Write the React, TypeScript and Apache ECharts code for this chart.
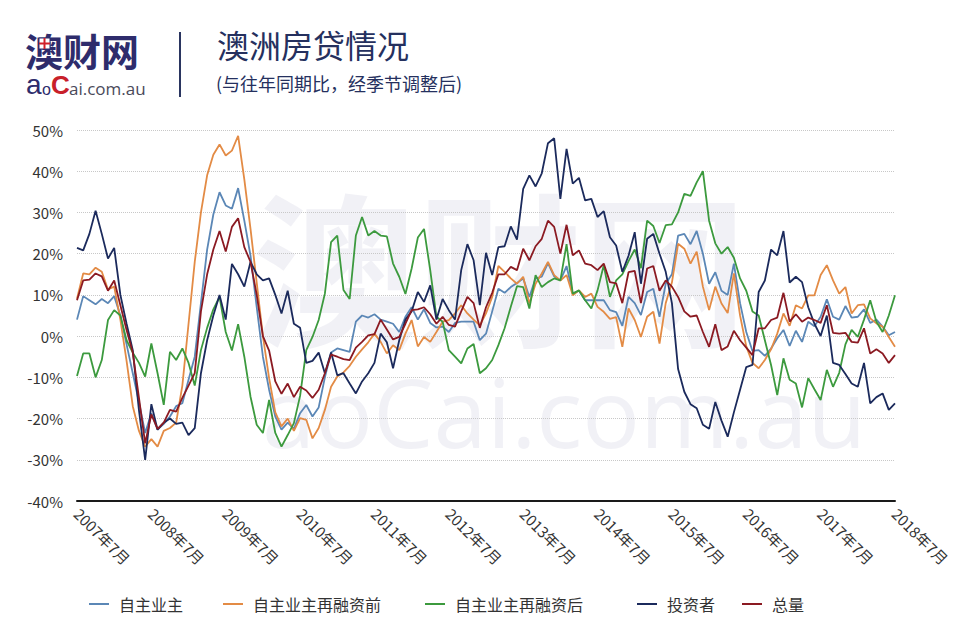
import React, { useEffect, useRef } from "react";
import * as echarts from "echarts";

const startYear = 2007;
const endYear = 2018;
const months: string[] = [];
for (let y = startYear; y <= endYear; y++) {
  for (let m = 1; m <= 12; m++) {
    if ((y === startYear && m < 7) || (y === endYear && m > 7)) continue;
    months.push(`${y}年${m}月`);
  }
}

const seriesNames = ["自主业主", "自主业主再融资前", "自主业主再融资后", "投资者", "总量"];
const seriesColors = ["#5b87b6", "#e38b45", "#3c9a3e", "#1b2a5c", "#8b1a22"];

const ownerOccupier = [
  4, 9.7, 8.7, 7.7, 9, 8, 9.7, 5, -2, -9, -16, -23.5, -18.7, -22.7, -21.3, -19.5, -17, -16.3, -10.6, -5,
  8, 21, 29.5, 34.9, 31.7, 30.9, 35.9, 28, 19.5, 7, -5, -13, -19.5, -22.7, -21, -22.5, -18.7, -16.7, -19.5, -17.3,
  -10, -4, -3, -3.4, -3.8, 3.5, 5, 4.5, 5.3, 4, 3.5, 3, 1, 4.7, 7, 4, 6.5, 3.2, 2.1, 2.3,
  1, 3.2, 3.5, 3.5, 3.5, -1, 0.6, 6, 11.5, 10.5, 11.9, 12.9, 14, 9.5, 14, 14.4, 17.7, 14.5, 13.5, 17,
  10.3, 11, 8.7, 8.7, 8.7, 8.7, 6.3, 5.8, 2.5, 9.5, 8, 5.1, 10.7, 11.5, 4.7, 12.7, 15, 24.4, 24.8, 22.3,
  25.5, 20, 12.7, 15.5, 11, 10, 17.6, 8, 1, -3.6, -3.4, -4.8, -3, -0.5, 1.5, -2.4, 1.3, -1.4, 3.5, 2.4,
  4.7, 8.9, 4.7, 4, 7.3, 4.5, 4.7, 6.5, 3.2, 4, 2.3, 0.2, 1,
];

const ownerRefiBefore = [
  9.1, 15.2, 15, 16.6, 15.6, 11.3, 12, 4, -6, -17, -23, -26.8, -25, -26.8, -23, -22.3, -21, -12, 3, 18,
  30, 39, 44, 46.5, 43.8, 45, 48.6, 38, 26, 13, 0, -10.2, -18.5, -21.9, -20, -23, -19.9, -20.3, -24.8, -22.3,
  -17.9, -12.3, -9.8, -8.8, -7.2, -5, -3.2, -1.5, 0.6, -1.4, -4.2, -2.2, -3.4, 0.6, 3.9, -2.5, -0.2, -1.4, 1, 3.5,
  3.9, 5.5, 7.5, 5.5, 4, 2.6, 5.5, 9.5, 17, 15.6, 14, 12.7, 14.4, 7.9, 12.7, 15.2, 18, 14.8, 13.5, 14.8,
  9.9, 11.1, 9.5, 10.3, 7.1, 5.9, 4.2, 4.6, -2.6, 6.7, 3.9, -0.2, 4.7, 5.9, -1.8, 8, 13, 22.4, 21.2, 17.6,
  20.5, 12, 6.3, 12, 7.9, 5.6, 15.2, 5, -2.5, -6.5, -7.8, -5.8, -3.2, 0.6, 5.5, 2.5, 7.5, 6.7, 9.9, 9.9,
  14.8, 17.2, 13.5, 10.3, 11.9, 5.5, 7.5, 7.7, 4.3, 3.1, 2.3, -0.2, -2.6,
];

const ownerRefiAfter = [
  -9.7, -4.2, -4.2, -10, -5.8, 3.9, 6.3, 5, -1, -4, -6.5, -9.8, -1.8, -9, -16.7, -3.8, -5.8, -3, -6.5, -12,
  -3.4, 2, 6.5, 9.5, 1, -3.5, 2.9, -5, -14.7, -21.5, -23.5, -15.5, -23.5, -26.8, -24, -21.1, -14.5, -3.4, -0.2, 3.9,
  10.3, 22.8, 24.4, 11.2, 9, 24.4, 28.9, 24.4, 25.5, 24.4, 24.2, 17.6, 14.4, 10.2, 16.4, 23.9, 26, 16, 4.7, 3.5,
  -3.4, -5, -6.6, -3, -1.9, -9, -7.8, -5.8, -2.2, 1.9, 7.1, 12.1, 11.9, 6.7, 14.8, 11.9, 13.1, 14, 13.5, 22.3,
  10.3, 11.1, 8.7, 6.7, 11.1, 17.2, 9.5, 13.5, 15, 18.2, 21, 16.5, 28, 26.7, 22.6, 26.9, 27.1, 30, 34.5, 34,
  37.3, 40, 28, 22.5, 20, 21.6, 19, 14, 11, 6, 5, -1, -7, -14.3, -5.4, -10.6, -11.5, -17.3, -10.2, -12.9,
  -15.5, -8.2, -12.3, -8.9, -2, 1.5, -0.2, 4, 8.7, 3.5, 1, 5, 9.9,
];

const investor = [
  21.4, 20.8, 24.8, 30.4, 24.8, 18.8, 21.4, 10, 3, -3.4, -18, -30, -16.5, -22.7, -21, -20, -21.3, -21, -24, -22.3,
  -9, -1, 5, 10, 4, 17.5, 15, 12, 18, 15, 13.5, 14, 10, 5.5, 11, 3, 2, -6.5, -6, -4,
  -9, -4, -9.5, -9, -11.5, -13.9, -11, -9, -6.5, 0.6, -1.5, -7.8, -1, 4, 6, 10.7, 8.3, 12.3, 4, 9,
  6.3, 4, 16, 22.3, 18.4, 7.5, 20.2, 14.8, 21.6, 21.8, 26.6, 23.4, 35.7, 39, 36.3, 39.5, 46.8, 48, 33.3, 45.4,
  37, 38.4, 32.9, 33.3, 28.9, 30.3, 24, 22, 15.6, 19.5, 25.2, 12.7, 23.6, 24.8, 20, 15.6, 8, -8, -13.5, -16.5,
  -17.5, -21.5, -22.5, -16, -20.5, -24.4, -18.5, -13, -7.5, -7, 10.7, 13.5, 21, 19.6, 25.5, 13, 14.4, 13.1, 7, 3,
  0, 5, -6.5, -7, -9.2, -11.5, -12.3, -6.5, -16.3, -14.8, -13.9, -17.9, -16.3,
];

const total = [
  8.7, 13.5, 13.7, 15.2, 14.5, 11, 13.5, 7.5, 1.5, -4, -15, -26, -19, -22.5, -21, -17.9, -18.3, -15, -12, -9,
  6, 15, 21, 25.5, 20.5, 26.5, 28.6, 21.6, 18, 10, 0, -3.5, -11, -14, -11.5, -14.8, -12.3, -13.2, -15, -13,
  -9, -4.5, -5, -5.6, -5.8, -2.8, -1.4, 0.2, 0.5, 4, 1.6, -0.8, -0.2, 3, 6.3, 6.5, 7, 5.3, 3, 4.7,
  2.7, 2.3, 6, 9.5, 8, 2, 7, 10.5, 15, 15, 16.8, 16, 21.2, 18.4, 21.8, 23.6, 28, 26.5, 20, 27,
  19.6, 20.8, 17.6, 17.2, 16, 17.6, 13.1, 12.8, 8, 15.5, 15.8, 8, 16.4, 17, 11, 13.5, 12, 9.5, 6, 4.7,
  5, 1, -2.6, 2.9, -3.4, -2.5, 1.3, -1, -2.8, -4.6, 1.9, 1.9, 3.9, 4.5, 10.5, 3.5, 5.3, 3.5, 4.5, 3.9,
  3.2, 7.5, 0.8, 0.6, 0.8, -1.4, -1.6, 1.9, -4.2, -3.2, -4.2, -6.5, -4.6,
];

const seriesData = [ownerOccupier, ownerRefiBefore, ownerRefiAfter, investor, total];
const legendLefts = [84, 218, 420, 632, 737];

export default function App() {
  const ref = useRef<HTMLDivElement>(null);
  useEffect(() => {
    document.body.style.margin = "0";
    if (!ref.current) return;
    const chart = echarts.init(ref.current, null, { renderer: "svg" });
    const font = "'Noto Sans CJK SC', 'Noto Sans', sans-serif";
    const latin = "'Liberation Sans', 'Open Sans', sans-serif";
    chart.setOption({
      animation: false,
      backgroundColor: "#ffffff",
      textStyle: { fontFamily: font },
      grid: { left: 77, right: 79, top: 130, bottom: 125 },
      legend: seriesNames.map((n, i) => ({
        data: [n],
        left: legendLefts[i],
        top: 591,
        icon: "rect",
        itemWidth: 20,
        itemHeight: 2,
        textStyle: { fontSize: 16, color: "#333", fontFamily: font, padding: [0, 0, 0, 5] },
      })),
      graphic: [
        {
          type: "text",
          left: 252,
          top: 180,
          z: -10,
          silent: true,
          style: { text: "澳财网", fontSize: 165, fontWeight: "bold", fill: "rgba(215,215,228,0.35)", fontFamily: font },
        },
        {
          type: "text",
          left: 262,
          top: 362,
          z: -10,
          silent: true,
          style: { text: "aoCai.com.au", fontSize: 96, fill: "rgba(215,215,228,0.35)", fontFamily: "'Open Sans', sans-serif" },
        },
        {
          type: "text",
          x: 25,
          y: 49,
          style: { text: "澳财网", fontSize: 38, fontWeight: "bold", fill: "#2e2c6c", fontFamily: font, verticalAlign: "middle" },
        },
        {
          type: "rect",
          shape: { x: 39, y: 38, width: 11, height: 11 },
          style: { fill: "#ffffff", stroke: "#2e2c6c", lineWidth: 1 },
        },
        { type: "line", shape: { x1: 44.5, y1: 38, x2: 44.5, y2: 49 }, style: { stroke: "#d0202a", lineWidth: 2 } },
        { type: "line", shape: { x1: 39, y1: 43.5, x2: 50, y2: 43.5 }, style: { stroke: "#d0202a", lineWidth: 2 } },
        {
          type: "text",
          x: 26,
          y: 98,
          style: { text: "a", fontSize: 28, fill: "#2e2c6c", fontFamily: latin, verticalAlign: "bottom" },
        },
        {
          type: "text",
          x: 42,
          y: 97,
          style: { text: "o", fontSize: 16, fill: "#2e2c6c", fontFamily: latin, verticalAlign: "bottom" },
        },
        {
          type: "text",
          x: 51,
          y: 98,
          style: { text: "C", fontSize: 26, fill: "#c8202a", fontWeight: "bold", fontFamily: latin, verticalAlign: "bottom" },
        },
        {
          type: "text",
          x: 69,
          y: 97,
          style: { text: "ai.com.au", fontSize: 17, fill: "#4a4a5a", fontFamily: "'Open Sans', sans-serif", verticalAlign: "bottom" },
        },
        {
          type: "line",
          shape: { x1: 180, y1: 32, x2: 180, y2: 97 },
          style: { stroke: "#2a3560", lineWidth: 2 },
        },
        {
          type: "text",
          left: 217,
          top: 28,
          style: { text: "澳洲房贷情况", fontSize: 32, fill: "#25305e", fontFamily: font },
        },
        {
          type: "text",
          left: 216,
          top: 74,
          style: { text: "(与往年同期比，经季节调整后)", fontSize: 18, fill: "#25305e", fontFamily: font },
        },
      ],
      xAxis: {
        type: "category",
        data: months,
        boundaryGap: false,
        axisLine: { onZero: false, lineStyle: { color: "#1a1a1a", width: 2 } },
        axisTick: { show: false },
        axisLabel: {
          interval: 11,
          rotate: -45,
          fontSize: 15,
          color: "#333",
          margin: 10,
          fontFamily: font,
        },
        splitLine: { show: false },
      },
      yAxis: {
        type: "value",
        min: -40,
        max: 50,
        interval: 10,
        axisLine: { show: false },
        axisTick: { show: false },
        axisLabel: { formatter: "{value}%", fontSize: 15, color: "#333", margin: 14, fontFamily: font },
        splitLine: { lineStyle: { type: "dotted", color: "#c8c8c8", width: 1 } },
      },
      series: seriesNames.map((n, i) => ({
        name: n,
        type: "line",
        data: seriesData[i],
        symbol: "none",
        color: seriesColors[i],
        lineStyle: { width: 1.8, color: seriesColors[i] },
        z: 2 + i,
      })),
    });
    return () => chart.dispose();
  }, []);
  return <div ref={ref} style={{ width: 974, height: 626 }} />;
}
